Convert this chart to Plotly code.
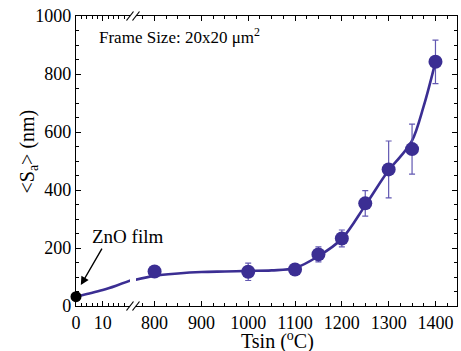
import plotly.graph_objects as go

# ---- data ----
temp_c = [800, 1000, 1100, 1150, 1200, 1250, 1300, 1350, 1400]
sa_nm = [119, 118, 126, 178, 233, 354, 471, 541, 842]
sa_err = [0, 30, 0, 26, 29, 44, 98, 86, 75]

zno_x = [0]
zno_y = [32]

# fitted guide curve
curve_left_x = [0, 5, 10, 15, 21]
curve_left_y = [32, 43, 55, 70, 90]
curve_right_x = [758, 800, 850, 900, 950, 1000, 1050, 1100, 1150, 1200, 1250, 1300, 1325, 1350, 1375, 1400]
curve_right_y = [90, 104, 112, 117, 119, 121, 123, 131, 172, 232, 347, 468, 515, 570, 690, 842]

left_ticks = [0, 10]
right_ticks = [800, 900, 1000, 1100, 1200, 1300, 1400]
y_ticks = [0, 200, 400, 600, 800, 1000]

PURPLE = "#3B2E93"
ERR = "rgb(98,88,178)"
FONT = "'Times New Roman', 'Liberation Serif', serif"

# geometry (pixels of plot area)
L, R, T, B = 76, 4, 16, 45
W = 461 - L - R
H = 351 - T - B
def px(x):
    return (x - L) / W
def py(y):
    return (351 - B - y) / H

split_a = px(130)
split_b = px(136)

fig = go.Figure()

fig.add_trace(go.Scatter(x=curve_left_x, y=curve_left_y, mode="lines",
                         line=dict(color=PURPLE, width=2.6, shape="spline"),
                         xaxis="x", yaxis="y", showlegend=False, hoverinfo="skip"))
fig.add_trace(go.Scatter(x=curve_right_x, y=curve_right_y, mode="lines",
                         line=dict(color=PURPLE, width=2.6, shape="spline", smoothing=1.0),
                         xaxis="x2", yaxis="y", showlegend=False, hoverinfo="skip"))
fig.add_trace(go.Scatter(x=temp_c, y=sa_nm, mode="markers",
                         marker=dict(color=PURPLE, size=14),
                         error_y=dict(type="data", array=sa_err, visible=True,
                                      color=ERR, thickness=1.2, width=3),
                         xaxis="x2", yaxis="y", showlegend=False))
fig.add_trace(go.Scatter(x=zno_x, y=zno_y, mode="markers",
                         marker=dict(color="black", size=11),
                         cliponaxis=False,
                         xaxis="x", yaxis="y", showlegend=False))
# invisible trace to carry the right-hand y axis
fig.add_trace(go.Scatter(x=[1000], y=[500], mode="markers", marker=dict(opacity=0),
                         xaxis="x2", yaxis="y2", showlegend=False, hoverinfo="skip"))

axis_common = dict(showline=True, linecolor="black", linewidth=1.2,
                   ticks="inside", ticklen=5, tickwidth=1, tickcolor="black",
                   showgrid=False, zeroline=False,
                   tickfont=dict(family=FONT, size=18, color="black"))

fig.update_layout(
    width=461, height=351,
    margin=dict(l=L, r=R, t=T, b=B),
    paper_bgcolor="white", plot_bgcolor="white",
    font=dict(family=FONT, color="black"),
    xaxis=dict(domain=[0, split_a], range=[0, 20.2], tickvals=left_ticks, mirror="ticks",
               minor=dict(dtick=2, tick0=0, ticks="inside", ticklen=3, tickcolor="black"),
               anchor="y", **axis_common),
    xaxis2=dict(domain=[split_b, 1], range=[760.3, 1446], tickvals=right_ticks, mirror="ticks",
                minor=dict(dtick=25, tick0=0, ticks="inside", ticklen=3, tickcolor="black"),
                anchor="y", **axis_common),
    yaxis=dict(domain=[0, 1], range=[0, 1000], tickvals=y_ticks,
               minor=dict(dtick=50, tick0=0, ticks="inside", ticklen=3, tickcolor="black"),
               anchor="x", **axis_common),
    yaxis2=dict(domain=[0, 1], range=[0, 1000], tickvals=y_ticks, overlaying="y",
                side="right", anchor="x2", showticklabels=False,
                minor=dict(dtick=50, tick0=0, ticks="inside", ticklen=3, tickcolor="black"),
                **axis_common),
)

# break marks
for yc in (0, 1):
    for xc in (px(130), px(136)):
        fig.add_shape(type="line", xref="paper", yref="paper",
                      x0=xc - 3.5 / W, x1=xc + 3.5 / W,
                      y0=yc - 4.5 / H, y1=yc + 4.5 / H,
                      line=dict(color="black", width=1.2))

fig.add_annotation(xref="paper", yref="paper", x=px(96.5), y=py(36),
                   xanchor="left", yanchor="middle", showarrow=False,
                   text="Frame Size: 20x20 μm<sup>2</sup>",
                   font=dict(family=FONT, size=17, color="black"))
fig.add_annotation(xref="paper", yref="paper", x=px(127), y=py(236),
                   xanchor="center", yanchor="middle", showarrow=False,
                   text="ZnO film", font=dict(family=FONT, size=19, color="black"))
fig.add_annotation(xref="x", yref="y", x=1.8, y=72, ax=22, ay=-38,
                   showarrow=True, arrowhead=2, arrowsize=1.2, arrowwidth=1.4,
                   arrowcolor="black", text="")
fig.add_annotation(xref="paper", yref="paper", x=px(277), y=py(340),
                   xanchor="center", yanchor="middle", showarrow=False,
                   text="Tsin (<sup>o</sup>C)", font=dict(family=FONT, size=20, color="black"))
fig.add_annotation(xref="paper", yref="paper", x=px(28), y=py(151.5),
                   xanchor="center", yanchor="middle", showarrow=False, textangle=-90,
                   text="&lt;S<sub>a</sub>&gt; (nm)", font=dict(family=FONT, size=20, color="black"))

fig.write_html("out.html", config={"displayModeBar": False},
               post_script="document.body.style.margin='0';")
